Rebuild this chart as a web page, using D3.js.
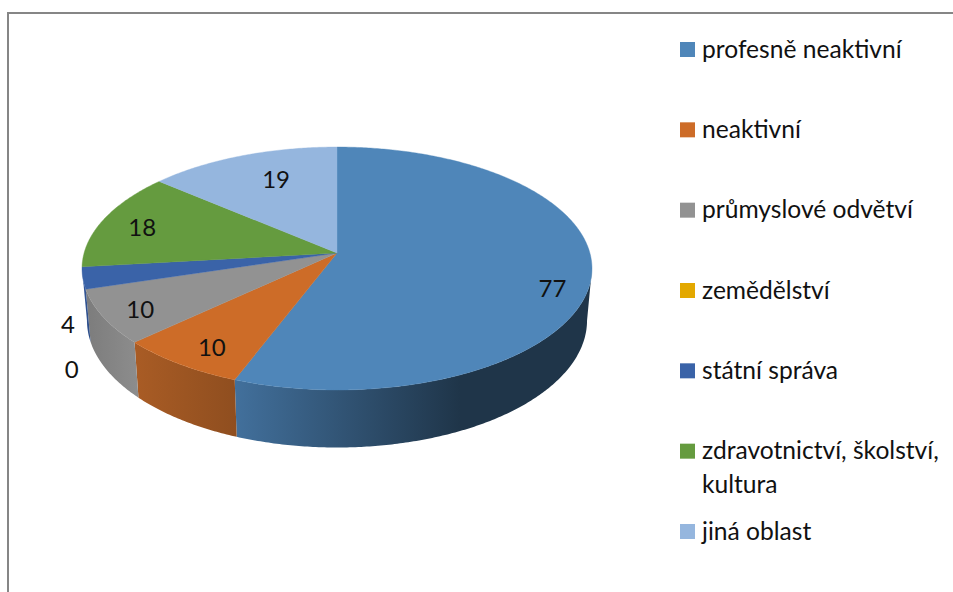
<!DOCTYPE html>
<html lang="en">
<head>
<meta charset="utf-8">
<title>Pie chart</title>
<script src="https://d3js.org/d3.v7.min.js"></script>
<style>
  html, body { margin: 0; padding: 0; background: #fff; }
  svg { display: block; }
  text { font-family: Lato, "Open Sans", sans-serif; fill: #111; }
  .value { font-size: 24px; text-anchor: middle; }
  .legend text { font-size: 24.6px; }
</style>
</head>
<body>
<script>
// data
const categories = ["profesně neaktivní", "neaktivní", "průmyslové odvětví", "zemědělství",
  "státní správa", "zdravotnictví, školství, kultura", "jiná oblast"];
const values = [77, 10, 10, 0, 4, 18, 19];
const legendLines = [["profesně neaktivní"], ["neaktivní"], ["průmyslové odvětví"], ["zemědělství"],
  ["státní správa"], ["zdravotnictví, školství,", "kultura"], ["jiná oblast"]];

const colors = ["#4f86b9", "#cd6c28", "#929292", "#e3a800", "#3a63a8", "#659b3f", "#95b6de"];
// wall shading, left colour then right colour
const wallLeft = ["#42709c", "#a95c25", "#7c7c7c", "#a87c00", "#34589a", "#659b3f", "#95b6de"];
const wallRight = ["#1f3549", "#8f4e1f", "#8d8d8d", "#a87c00", "#2c4c86", "#659b3f", "#95b6de"];

// label placement: radius as part of pie radius, and turn away from slice middle (degrees)
const labelRadius = [0.87, 0.85, 0.86, 1.275, 1.133, 0.82, 0.72];
const labelTurn = [9, -2, -1.5, -26, -17.5, -1.8, 3.5];

const w = 953, h = 592;
const cx = 337, persp = 0.1276;          // the pie is tilted, front is nearer
const topFace = { a: 252.9, b: 119.5, y0: 253 };
const baseFace = { a: 248, b: 125, y0: 304.2 };

function project(face, angle, r = 1) {
  const u = r * Math.sin(angle), v = -r * Math.cos(angle);
  const k = 1 - persp * v;
  return [cx + face.a * u / k, face.y0 + face.b * v / k];
}

function arcPoints(face, a0, a1) {
  const n = Math.max(2, Math.ceil(Math.abs(a1 - a0) / 0.01));
  return d3.range(n + 1).map(i => project(face, a0 + (a1 - a0) * i / n));
}

const svg = d3.select("body").append("svg").attr("width", w).attr("height", h);

// chart frame, only left and top are in the crop
svg.append("path")
  .attr("d", d3.line()([[8, h], [8, 13], [w, 13]]))
  .attr("fill", "none").attr("stroke", "#868686").attr("stroke-width", 2);

const arcs = d3.pie().sort(null).value(d => d)(values);
const line = d3.line();

// walls are only seen between the two side tangents of the ellipse
const wallFrom = Math.acos(-persp), wallTo = 2 * Math.PI - wallFrom;
const defs = svg.append("defs");

arcs.forEach((d, i) => {
  const a0 = Math.max(d.startAngle, wallFrom), a1 = Math.min(d.endAngle, wallTo);
  if (a1 <= a0) return;
  const top = arcPoints(topFace, a0, a1), base = arcPoints(baseFace, a0, a1);
  const xs = top.concat(base).map(p => p[0]);

  const grad = defs.append("linearGradient")
    .attr("id", "wall" + i)
    .attr("gradientUnits", "userSpaceOnUse")
    .attr("x1", d3.min(xs)).attr("x2", i === 0 ? 460 : d3.max(xs))
    .attr("y1", 0).attr("y2", 0);
  grad.append("stop").attr("offset", 0).attr("stop-color", wallLeft[i]);
  grad.append("stop").attr("offset", 1).attr("stop-color", wallRight[i]);

  svg.append("path")
    .attr("d", line(top.concat(base.reverse())) + "Z")
    .attr("fill", "url(#wall" + i + ")");
});

// top faces
svg.selectAll("path.slice")
  .data(arcs.filter(d => d.value > 0))
  .join("path")
  .attr("class", "slice")
  .attr("d", d => line([[cx, topFace.y0]].concat(arcPoints(topFace, d.startAngle, d.endAngle))) + "Z")
  .attr("fill", d => colors[d.index])
  .attr("stroke", d => colors[d.index])
  .attr("stroke-width", 0.4);

// value labels
svg.selectAll("text.value")
  .data(arcs)
  .join("text")
  .attr("class", "value")
  .attr("dy", "0.35em")
  .attr("transform", (d, i) => {
    const mid = (d.startAngle + d.endAngle) / 2 + labelTurn[i] * Math.PI / 180;
    return "translate(" + project(topFace, mid, labelRadius[i]) + ")";
  })
  .text(d => d.value);

// legend
const legendY = d3.scalePoint().domain(categories).range([49.5, 531.5]);
const legend = svg.append("g").attr("class", "legend");

categories.forEach((c, i) => {
  const y = legendY(c);
  legend.append("rect")
    .attr("x", 680).attr("y", y - 7.5)
    .attr("width", 15).attr("height", 15)
    .attr("fill", colors[i]);
  const t = legend.append("text").attr("x", 702).attr("y", y + 8);
  legendLines[i].forEach((s, j) => {
    t.append("tspan").attr("x", 702).attr("dy", j ? 33.5 : 0).text(s);
  });
});
</script>
</body>
</html>
